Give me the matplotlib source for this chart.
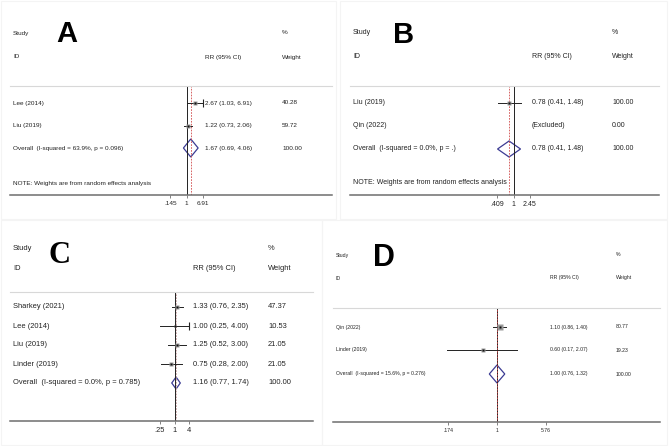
import numpy as np
import matplotlib
matplotlib.use("Agg")
import matplotlib.pyplot as plt
from matplotlib.patches import Polygon, Rectangle

plt.rcParams['font.family'] = ['Liberation Sans', 'DejaVu Sans']

W, H = 669, 446

# ---- panel A ----
a_studies = ["Lee (2014)", "Liu (2019)"]
a_rr = [2.67, 1.22]
a_lo = [1.03, 0.73]
a_hi = [6.91, 2.06]
a_weight = ["40.28", "59.72"]
a_ci_text = ["2.67 (1.03, 6.91)", "1.22 (0.73, 2.06)"]
a_overall = (1.67, 0.69, 4.06)
a_overall_label = "Overall  (I-squared = 63.9%, p = 0.096)"
a_overall_text = "1.67 (0.69, 4.06)"
a_ticks = [0.145, 1, 6.91]
a_ticklabels = [".145", "1", "6.91"]

# ---- panel B ----
b_studies = ["Liu (2019)", "Qin (2022)"]
b_rr = [0.78, np.nan]
b_lo = [0.41, np.nan]
b_hi = [1.48, np.nan]
b_weight = ["100.00", "0.00"]
b_ci_text = ["0.78 (0.41, 1.48)", "(Excluded)"]
b_overall = (0.78, 0.41, 1.48)
b_overall_label = "Overall  (I-squared = 0.0%, p = .)"
b_overall_text = "0.78 (0.41, 1.48)"
b_ticks = [0.409, 1, 2.45]
b_ticklabels = [".409", "1", "2.45"]

# ---- panel C ----
c_studies = ["Sharkey (2021)", "Lee (2014)", "Liu (2019)", "Linder (2019)"]
c_rr = [1.33, 1.00, 1.25, 0.75]
c_lo = [0.76, 0.25, 0.52, 0.28]
c_hi = [2.35, 4.00, 3.00, 2.00]
c_weight = ["47.37", "10.53", "21.05", "21.05"]
c_ci_text = ["1.33 (0.76, 2.35)", "1.00 (0.25, 4.00)", "1.25 (0.52, 3.00)", "0.75 (0.28, 2.00)"]
c_overall = (1.16, 0.77, 1.74)
c_overall_label = "Overall  (I-squared = 0.0%, p = 0.785)"
c_overall_text = "1.16 (0.77, 1.74)"
c_ticks = [0.25, 1, 4]
c_ticklabels = [".25", "1", "4"]

# ---- panel D ----
d_studies = ["Qin (2022)", "Linder (2019)"]
d_rr = [1.10, 0.60]
d_lo = [0.86, 0.17]
d_hi = [1.40, 2.07]
d_weight = ["80.77", "19.23"]
d_ci_text = ["1.10 (0.86, 1.40)", "0.60 (0.17, 2.07)"]
d_overall = (1.00, 0.76, 1.32)
d_overall_label = "Overall  (I-squared = 15.6%, p = 0.276)"
d_overall_text = "1.00 (0.76, 1.32)"
d_ticks = [0.174, 1, 5.76]
d_ticklabels = [".174", "1", "5.76"]

NOTE = "NOTE: Weights are from random effects analysis"


def fx(x):
    return x / W


def fy(y):
    return 1 - y / H


def forest(fig, studies, rr, lo, hi, weight, ci_text, overall, overall_label,
           overall_text, ticks, ticklabels, lay):
    fs = lay['fs']
    x0, x1 = lay['x0'], lay['x1']
    ysep, yax = lay['ysep'], lay['yax']
    k, xone = lay['k'], lay['xone']

    # axes spans from the separator line down to the x axis line (y in pixel rows)
    ax = fig.add_axes([fx(x0), fy(yax), (x1 - x0) / W, (yax - ysep) / H])
    ax.set_xscale('log')
    ax.set_xlim(np.exp((x0 - xone) / k), np.exp((x1 - xone) / k))
    ax.set_ylim(yax, ysep)
    ax.patch.set_alpha(0)
    for s in ['left', 'right']:
        ax.spines[s].set_visible(False)
    ax.spines['top'].set_color('#d8d8d8')
    ax.spines['top'].set_linewidth(0.8)
    ax.spines['bottom'].set_color('#6e6e6e')
    ax.spines['bottom'].set_linewidth(1.1)
    ax.set_yticks([])
    ax.xaxis.set_minor_locator(matplotlib.ticker.NullLocator())
    ax.set_xticks(ticks)
    ax.set_xticklabels(ticklabels)
    ax.tick_params(axis='x', length=2.5, width=0.6, color='#6e6e6e',
                   labelsize=fs, pad=1.5, labelcolor='#222222')

    ax.axvline(1, color='#222222', lw=0.7)
    ax.axvline(overall[0], color=lay['dcol'], lw=0.6, ls=(0, (2, 1.5)))

    rows = lay['rows']
    wmax = max(float(w) for w in weight)
    for i, y in enumerate(rows):
        if np.isnan(rr[i]):
            continue
        ax.plot([lo[i], hi[i]], [y, y], color='#222222', lw=0.7)
        ax.plot(rr[i], y, marker='s', ms=lay['box'] * np.sqrt(float(weight[i]) / wmax),
                color='#9a9a9a', mec='none')
        ax.plot(rr[i], y, marker='s', ms=1.6, color='#111111', mec='none')
        if hi[i] >= max(ticks):
            ax.plot(hi[i], y, marker='|', ms=6, mew=0.8, color='#222222')

    est, olo, ohi = overall
    yo, hh = lay['yo'], lay['hh']
    ax.add_patch(Polygon([(olo, yo), (est, yo - hh), (ohi, yo), (est, yo + hh)],
                         closed=True, fill=False, ec='#3b3b93', lw=0.9))

    txt = dict(fontsize=fs, color='#222222', va='center', ha='left')
    fig.text(fx(lay['cs']), fy(lay['yh1']), "Study", **txt)
    fig.text(fx(lay['cw']), fy(lay['yh1']), "%", **txt)
    fig.text(fx(lay['cs']), fy(lay['yh2']), "ID", **txt)
    fig.text(fx(lay['cr']), fy(lay['yh2']), "RR (95% CI)", **txt)
    fig.text(fx(lay['cw']), fy(lay['yh2']), "Weight", **txt)
    for i, y in enumerate(rows):
        fig.text(fx(lay['cs']), fy(y), studies[i], **txt)
        fig.text(fx(lay['cr']), fy(y), ci_text[i], **txt)
        fig.text(fx(lay['cw']), fy(y), weight[i], **txt)
    fig.text(fx(lay['cs']), fy(yo), overall_label, **txt)
    fig.text(fx(lay['cr']), fy(yo), overall_text, **txt)
    fig.text(fx(lay['cw']), fy(yo), "100.00", **txt)
    if lay.get('ynote'):
        fig.text(fx(lay['cs']), fy(lay['ynote']), NOTE, **txt)

    fig.text(fx(lay['lx']), fy(lay['ly']), lay['letter'], fontsize=lay['lfs'],
             fontweight='bold', family=lay['lfam'], ha='left', va='baseline',
             color='black')
    return ax


fig = plt.figure(figsize=(W / 100, H / 100), dpi=100)

# faint panel frames
for (px, py, pw, ph) in [(1, 1, 335, 218), (340, 1, 327, 218), (1, 220, 321, 225), (322, 220, 345, 225)]:
    fig.patches.append(Rectangle((fx(px), fy(py + ph)), pw / W, ph / H, transform=fig.transFigure,
                                 fill=False, ec='#f4f4f4', lw=0.8))

forest(fig, a_studies, a_rr, a_lo, a_hi, a_weight, a_ci_text, a_overall, a_overall_label,
       a_overall_text, a_ticks, a_ticklabels,
       dict(fs=4.6, x0=10, x1=332, ysep=86, yax=195, k=8.3, xone=186.5,
            rows=[103, 126], yo=148, hh=9, ynote=183, yh1=33, yh2=57,
            cs=13, cr=205, cw=282, box=3.0, letter="A", lx=56, ly=42, lfs=21,
            lfam=['Liberation Sans'], dcol='#d04a4a'))

forest(fig, b_studies, b_rr, b_lo, b_hi, b_weight, b_ci_text, b_overall, b_overall_label,
       b_overall_text, b_ticks, b_ticklabels,
       dict(fs=5.0, x0=350, x1=659, ysep=86, yax=195, k=17.9, xone=513.5,
            rows=[103, 126], yo=149, hh=8, ynote=183, yh1=33, yh2=57,
            cs=353, cr=532, cw=612, box=2.5, letter="B", lx=393, ly=43, lfs=21,
            lfam=['Liberation Sans'], dcol='#d04a4a'))

forest(fig, c_studies, c_rr, c_lo, c_hi, c_weight, c_ci_text, c_overall, c_overall_label,
       c_overall_text, c_ticks, c_ticklabels,
       dict(fs=5.4, x0=10, x1=313, ysep=292, yax=421, k=10.46, xone=174.5,
            rows=[307, 326, 345, 364], yo=383, hh=6, ynote=None, yh1=249, yh2=268,
            cs=13, cr=193, cw=268, box=3.5, letter="C", lx=49, ly=263, lfs=22,
            lfam=['Liberation Serif'], dcol='#c9a0a0'))

forest(fig, d_studies, d_rr, d_lo, d_hi, d_weight, d_ci_text, d_overall, d_overall_label,
       d_overall_text, d_ticks, d_ticklabels,
       dict(fs=3.7, x0=333, x1=660, ysep=308, yax=422, k=28.0, xone=497,
            rows=[327, 350], yo=374, hh=9, ynote=None, yh1=255, yh2=278,
            cs=336, cr=550, cw=616, box=4.5, letter="D", lx=373, ly=266, lfs=22,
            lfam=['Liberation Sans'], dcol='#d04a4a'))

fig.savefig("out.png", dpi=100)
